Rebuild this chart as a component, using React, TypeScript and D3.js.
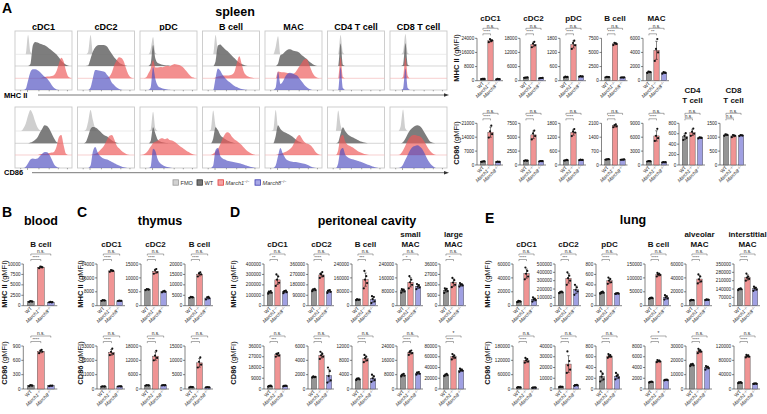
import React from "react";
import * as d3 from "d3";

const FONT = "'Liberation Sans', Arial, Helvetica, sans-serif";
const GROUPS = ["WT", "M1", "M8"];
const BAR_COLORS = ["#949494", "#f09494", "#a0a0e2"];
const HIST_FILL = ["#cfcfcf", "#666666", "#ee5a5a", "#4c4cc0"];
const HIST_OPA = [1, 0.85, 0.68, 0.66];

// ---------------- histogram data (24 bins, relative height 0-100) ----------------
const NB = 24;
const histCells = ["cDC1", "cDC2", "pDC", "B cell", "MAC", "CD4 T cell", "CD8 T cell"];

const mhcFMO = [
  [0,0,0,0,0,80,10,0,0,0,0,0,0,0,0,0,0,0,0,0,0,0,0,0],
  [0,0,0,0,10,80,5,0,0,0,0,0,0,0,0,0,0,0,0,0,0,0,0,0],
  [0,0,0,0,20,72,5,0,0,0,0,0,0,0,0,0,0,0,0,0,0,0,0,0],
  [0,0,0,0,0,80,15,0,0,0,0,0,0,0,0,0,0,0,0,0,0,0,0,0],
  [0,0,0,0,30,75,0,0,0,0,0,0,0,0,0,0,0,0,0,0,0,0,0,0],
  [0,0,0,0,0,80,8,0,0,0,0,0,0,0,0,0,0,0,0,0,0,0,0,0],
  [0,0,0,0,0,10,85,5,0,0,0,0,0,0,0,0,0,0,0,0,0,0,0,0],
];
const mhcWT = [
  [0,0,0,0,0,0,8,85,100,98,93,90,86,80,72,65,56,48,35,22,12,5,1,0],
  [0,0,0,0,2,30,60,78,86,88,88,86,80,65,50,35,25,15,8,4,1,0,0,0],
  [0,0,0,0,10,88,30,12,8,5,3,2,1,0,0,0,0,0,0,0,0,0,0,0],
  [0,0,0,0,0,20,85,90,80,70,62,52,42,32,22,14,8,4,1,0,0,0,0,0],
  [0,0,0,0,0,10,45,50,60,68,70,66,62,60,55,45,38,30,20,12,5,1,0,0],
  [0,0,0,0,0,94,5,0,0,0,0,0,0,0,0,0,0,0,0,0,0,0,0,0],
  [0,0,0,0,0,5,95,5,0,0,0,0,0,0,0,0,0,0,0,0,0,0,0,0],
];
const mhcM1 = [
  [0,0,0,0,0,0,0,0,0,0,0,3,5,7,8,10,14,30,62,86,70,30,6,1],
  [0,0,0,0,0,0,0,0,0,0,0,0,2,8,25,55,75,88,85,70,40,15,3,0],
  [0,0,3,20,40,75,45,45,47,46,50,52,50,55,60,58,55,50,42,30,18,8,3,0],
  [0,0,0,0,0,3,8,10,12,12,12,13,16,28,65,92,60,25,12,6,3,1,0,0],
  [0,0,0,0,0,28,26,25,24,22,20,18,22,35,50,65,78,80,60,35,15,5,1,0],
  [0,0,0,0,0,88,5,0,0,0,0,0,0,0,0,0,0,0,0,0,0,0,0,0],
  [0,0,0,0,0,5,88,10,0,0,0,0,0,0,0,0,0,0,0,0,0,0,0,0],
];
const mhcM8 = [
  [0,0,0,0,5,40,75,86,86,82,75,65,55,48,35,20,8,2,0,0,0,0,0,0],
  [0,0,0,0,0,10,50,83,82,80,78,75,62,50,30,20,10,4,1,0,0,0,0,0],
  [0,0,0,0,10,96,45,18,10,6,4,2,1,0,0,0,0,0,0,0,0,0,0,0],
  [0,0,0,0,0,50,90,80,62,50,40,32,24,17,12,7,4,2,1,0,0,0,0,0],
  [0,0,0,0,10,76,25,35,55,68,72,70,65,60,48,35,22,12,5,1,0,0,0,0],
  [0,0,0,0,0,95,8,0,0,0,0,0,0,0,0,0,0,0,0,0,0,0,0,0],
  [0,0,0,0,0,5,90,8,0,0,0,0,0,0,0,0,0,0,0,0,0,0,0,0],
];
const cd86FMO = [
  [0,0,0,10,30,65,88,70,40,15,3,0,0,0,0,0,0,0,0,0,0,0,0,0],
  [0,0,0,5,40,88,45,10,0,0,0,0,0,0,0,0,0,0,0,0,0,0,0,0],
  [0,0,0,0,5,80,10,0,0,0,0,0,0,0,0,0,0,0,0,0,0,0,0,0],
  [0,0,0,5,85,20,0,0,0,0,0,0,0,0,0,0,0,0,0,0,0,0,0,0],
  [0,0,0,5,88,15,0,0,0,0,0,0,0,0,0,0,0,0,0,0,0,0,0,0],
  [0,0,0,0,85,25,0,0,0,0,0,0,0,0,0,0,0,0,0,0,0,0,0,0],
  [0,0,0,0,20,90,10,0,0,0,0,0,0,0,0,0,0,0,0,0,0,0,0,0],
];
const cd86WT = [
  [0,0,0,0,0,0,3,8,15,25,45,62,75,72,60,40,20,5,1,0,0,0,0,0],
  [0,0,0,5,30,60,68,66,60,50,40,33,28,20,12,6,2,0,0,0,0,0,0,0],
  [0,0,0,0,10,67,40,15,8,4,2,1,0,0,0,0,0,0,0,0,0,0,0,0],
  [0,0,0,0,20,67,55,35,25,18,12,8,4,1,0,0,0,0,0,0,0,0,0,0],
  [0,0,0,0,30,75,60,50,45,40,35,28,20,12,6,2,0,0,0,0,0,0,0,0],
  [0,0,0,0,5,40,67,50,38,30,25,20,15,10,6,3,1,0,0,0,0,0,0,0],
  [0,0,0,0,0,5,20,40,55,65,72,75,72,62,45,28,12,4,1,0,0,0,0,0],
];
const cd86M1 = [
  [0,0,0,0,0,0,0,0,0,0,3,4,5,6,8,10,14,35,75,83,40,5,0,0],
  [0,0,0,0,0,0,2,5,10,20,30,45,65,80,83,65,40,28,18,10,4,1,0,0],
  [0,2,8,20,35,50,55,60,68,70,66,70,62,60,55,48,40,32,25,18,12,6,2,0],
  [0,0,0,0,5,15,25,45,70,88,95,90,75,65,58,50,42,30,20,12,6,2,0,0],
  [0,0,0,0,0,3,5,8,12,18,25,35,55,75,83,70,55,48,45,38,25,10,3,0],
  [0,0,0,0,20,75,83,55,42,38,32,25,18,12,8,4,2,0,0,0,0,0,0,0],
  [0,0,0,0,5,20,40,60,75,82,83,80,78,70,55,38,22,10,3,0,0,0,0,0],
];
const cd86M8 = [
  [0,0,0,0,5,20,35,40,38,40,50,60,67,66,55,35,15,5,1,0,0,0,0,0],
  [0,0,0,0,0,10,70,88,65,50,42,38,35,30,25,20,15,10,6,3,1,0,0,0],
  [0,0,0,0,5,80,70,35,20,12,7,4,2,0,0,0,0,0,0,0,0,0,0,0],
  [0,0,0,0,10,75,83,50,40,35,30,28,26,24,22,20,17,14,10,7,4,2,0,0],
  [0,0,0,0,10,50,83,60,42,32,28,26,25,24,22,20,18,15,10,5,2,0,0,0],
  [0,0,0,0,20,75,83,55,45,40,36,33,30,27,24,20,16,12,8,5,2,0,0,0],
  [0,0,0,0,3,15,35,55,75,88,92,95,90,80,62,42,25,12,4,0,0,0,0,0],
];

// ---------------- bar chart data (individual mice, gMFI) ----------------
type Panel = { title: string[]; ticks: number[]; wt: number[]; m1: number[]; m8: number[]; sig: string[] };

const spleenMHC: Panel[] = [
  { title: ["cDC1"], ticks: [0, 8000, 16000, 24000], wt: [900, 1000, 1100, 1000], m1: [21800, 22800, 23500, 22500], m8: [800, 900, 1000, 850], sig: ["****", "n.s."] },
  { title: ["cDC2"], ticks: [0, 6000, 12000, 18000], wt: [1200, 1400, 1300, 1350], m1: [14200, 15000, 15800, 16500], m8: [1000, 1200, 1100, 1150], sig: ["****", "n.s."] },
  { title: ["pDC"], ticks: [0, 600, 1200, 1800], wt: [140, 160, 170, 150], m1: [1350, 1500, 1600, 1700], m8: [170, 180, 190, 175], sig: ["****", "n.s."] },
  { title: ["B cell"], ticks: [0, 2500, 5000, 7500], wt: [600, 650, 700, 620], m1: [6300, 6500, 6700, 6600], m8: [550, 600, 580, 560], sig: ["****", "n.s."] },
  { title: ["MAC"], ticks: [0, 2000, 4000, 6000], wt: [1100, 1200, 1300, 1250], m1: [2800, 4000, 4500, 5900], m8: [1000, 1100, 1200, 1150], sig: ["**", "n.s."] },
];
const spleenCD86: Panel[] = [
  { title: [], ticks: [0, 7000, 14000, 21000], wt: [1600, 1800, 1700, 1900], m1: [13800, 15500, 17000, 19800], m8: [1500, 1600, 1700, 1550], sig: ["****", "n.s."] },
  { title: [], ticks: [0, 2500, 5000, 7500], wt: [750, 800, 850, 780], m1: [4600, 5200, 5700, 6200], m8: [650, 700, 720, 680], sig: ["****", "n.s."] },
  { title: [], ticks: [0, 600, 1200, 1800], wt: [190, 210, 200, 220], m1: [1250, 1400, 1450, 1550], m8: [210, 220, 230, 215], sig: ["****", "n.s."] },
  { title: [], ticks: [0, 700, 1400, 2100], wt: [270, 290, 280, 300], m1: [1900, 1950, 2000, 2050], m8: [260, 280, 270, 275], sig: ["****", "n.s."] },
  { title: [], ticks: [0, 3000, 6000, 9000], wt: [750, 800, 850, 820], m1: [5200, 5800, 6300, 7800], m8: [550, 600, 620, 580], sig: ["****", "n.s."] },
  { title: ["CD4", "T cell"], ticks: [0, 200, 400, 600, 800], wt: [480, 520, 560, 610], m1: [560, 600, 640, 700], m8: [510, 520, 530, 525], sig: ["n.s.", "n.s."] },
  { title: ["CD8", "T cell"], ticks: [0, 500, 1000, 1500], wt: [1050, 1080, 1100, 1090], m1: [1000, 1050, 1080, 1060], m8: [1040, 1060, 1080, 1070], sig: ["n.s.", "n.s."] },
];
const bloodMHC: Panel[] = [
  { title: ["B cell"], ticks: [0, 2500, 5000, 7500, 10000], wt: [900, 1000, 1100, 1050], m1: [9000, 9200, 9400, 9300], m8: [800, 850, 900, 820], sig: ["****", "n.s."] },
];
const bloodCD86: Panel[] = [
  { title: [], ticks: [0, 300, 600, 900], wt: [60, 70, 80, 75], m1: [750, 780, 800, 820], m8: [60, 70, 72, 68], sig: ["****", "n.s."] },
];
const thymusMHC: Panel[] = [
  { title: ["cDC1"], ticks: [0, 8000, 16000, 24000], wt: [2800, 3000, 3200, 3100], m1: [19500, 20000, 20500, 20200], m8: [2700, 2800, 2900, 2850], sig: ["****", "n.s."] },
  { title: ["cDC2"], ticks: [0, 5000, 10000, 15000], wt: [5600, 5800, 6000, 5900], m1: [11500, 12000, 12800, 13200], m8: [4800, 5000, 5200, 5300], sig: ["****", "n.s."] },
  { title: ["B cell"], ticks: [0, 5000, 10000, 15000, 20000], wt: [3800, 4000, 4200, 4100], m1: [14000, 15000, 15500, 16000], m8: [3000, 3600, 4000, 4200], sig: ["****", "n.s."] },
];
const thymusCD86: Panel[] = [
  { title: [], ticks: [0, 11000, 22000, 33000], wt: [1800, 2000, 2100, 1900], m1: [26000, 27000, 28500, 31000], m8: [1900, 2000, 2100, 2050], sig: ["****", "n.s."] },
  { title: [], ticks: [0, 6000, 12000, 18000], wt: [1400, 1500, 1600, 1550], m1: [12000, 13000, 14000, 16000], m8: [1500, 1600, 1650, 1550], sig: ["****", "n.s."] },
  { title: [], ticks: [0, 5000, 10000, 15000], wt: [600, 700, 750, 650], m1: [7500, 8500, 9500, 11000], m8: [550, 600, 620, 580], sig: ["****", "n.s."] },
];
const periMHC: Panel[] = [
  { title: ["cDC1"], ticks: [0, 100000, 200000, 300000, 400000], wt: [115000, 125000, 130000, 140000, 135000], m1: [190000, 220000, 250000, 280000, 300000], m8: [120000, 130000, 140000, 145000, 135000], sig: ["**", "n.s."] },
  { title: ["cDC2"], ticks: [0, 90000, 180000, 270000, 360000], wt: [125000, 135000, 140000, 145000, 138000], m1: [240000, 255000, 270000, 290000, 275000], m8: [110000, 120000, 130000, 135000, 128000], sig: ["****", "n.s."] },
  { title: ["B cell"], ticks: [0, 80000, 160000, 240000], wt: [32000, 35000, 37000, 34000, 36000], m1: [100000, 130000, 150000, 170000, 200000], m8: [15000, 25000, 38000, 50000, 55000], sig: ["***", "n.s."] },
  { title: ["small", "MAC"], ticks: [0, 80000, 160000, 240000], wt: [75000, 82000, 88000, 92000, 95000], m1: [100000, 120000, 135000, 150000, 170000], m8: [95000, 105000, 110000, 118000, 125000], sig: ["*", "n.s."] },
  { title: ["large", "MAC"], ticks: [0, 9000, 18000, 27000, 36000], wt: [11000, 12500, 13500, 14500, 15000], m1: [16000, 18000, 20000, 22000, 24000], m8: [16500, 17500, 18000, 18500, 19500], sig: ["*", "n.s."] },
];
const periCD86: Panel[] = [
  { title: [], ticks: [0, 9000, 18000, 27000, 36000], wt: [2000, 2300, 2600, 2800, 2400], m1: [27000, 28000, 29000, 30000, 29500], m8: [2200, 2500, 2700, 2800, 2600], sig: ["***", "n.s."] },
  { title: [], ticks: [0, 2000, 4000, 6000], wt: [1600, 1700, 1750, 1650, 1700], m1: [4200, 4500, 4700, 4900, 5200], m8: [900, 1200, 1800, 2500, 3000], sig: ["****", "n.s."] },
  { title: [], ticks: [0, 4000, 8000, 12000], wt: [2500, 2700, 2900, 3000, 2800], m1: [7500, 8000, 8600, 9000, 9500], m8: [2000, 2500, 3000, 3500, 4000], sig: ["****", "n.s."] },
  { title: [], ticks: [0, 8000, 16000, 24000], wt: [7000, 7500, 8000, 8500, 7800], m1: [19000, 20000, 21000, 21500, 20500], m8: [8000, 8500, 9000, 9500, 9200], sig: ["****", "n.s."] },
  { title: [], ticks: [0, 20000, 40000, 60000, 80000], wt: [24000, 26000, 27000, 28000, 25000], m1: [55000, 58000, 60000, 62000, 65000], m8: [32000, 34000, 35000, 36000, 38000], sig: ["****", "*"] },
];
const lungMHC: Panel[] = [
  { title: ["cDC1"], ticks: [0, 20000, 40000, 60000], wt: [5000, 6000, 7000, 6500, 5500], m1: [38000, 42000, 46000, 50000, 55000], m8: [6000, 8000, 9000, 10000, 12000], sig: ["****", "n.s."] },
  { title: ["cDC2"], ticks: [0, 100000, 200000, 300000, 400000, 500000], wt: [150000, 160000, 165000, 170000, 158000], m1: [250000, 300000, 330000, 360000, 400000], m8: [130000, 170000, 190000, 220000, 250000], sig: ["***", "n.s."] },
  { title: ["pDC"], ticks: [0, 200, 400, 600, 800], wt: [230, 250, 260, 270, 240], m1: [420, 450, 480, 510, 540], m8: [225, 230, 235, 240, 232], sig: ["****", "n.s."] },
  { title: ["B cell"], ticks: [0, 50000, 100000, 150000], wt: [25000, 27000, 28000, 29000, 26000], m1: [105000, 110000, 112000, 115000, 118000], m8: [22000, 26000, 30000, 34000, 38000], sig: ["****", "n.s."] },
  { title: ["alveolar", "MAC"], ticks: [0, 20000, 40000, 60000], wt: [7500, 8000, 8500, 8200, 7800], m1: [32000, 35000, 38000, 42000, 45000], m8: [8000, 8500, 9000, 8700, 8300], sig: ["****", "n.s."] },
  { title: ["interstitial", "MAC"], ticks: [0, 70000, 140000, 210000, 280000, 350000], wt: [130000, 138000, 142000, 145000, 140000], m1: [210000, 225000, 235000, 245000, 270000], m8: [125000, 135000, 145000, 150000, 160000], sig: ["****", "n.s."] },
];
const lungCD86: Panel[] = [
  { title: [], ticks: [0, 60000, 120000, 180000], wt: [6000, 7000, 7500, 6500, 7000], m1: [110000, 115000, 120000, 125000, 130000], m8: [5000, 5500, 6000, 6500, 6200], sig: ["****", "n.s."] },
  { title: [], ticks: [0, 10000, 20000, 30000, 40000], wt: [1800, 2000, 2200, 2100, 1900], m1: [15000, 18000, 22000, 26000, 35000], m8: [3000, 3300, 3500, 3800, 3600], sig: ["****", "n.s."] },
  { title: [], ticks: [0, 200, 400, 600, 800], wt: [140, 180, 230, 280, 330], m1: [580, 600, 610, 630, 650], m8: [180, 210, 240, 260, 300], sig: ["****", "n.s."] },
  { title: [], ticks: [0, 2000, 4000, 6000, 8000], wt: [1200, 1300, 1350, 1400, 1300], m1: [5000, 5100, 5200, 5300, 5400], m8: [1600, 1650, 1700, 1750, 1700], sig: ["****", "*"] },
  { title: [], ticks: [0, 10000, 20000, 30000], wt: [16000, 16500, 17000, 17500, 17200], m1: [25000, 26000, 26500, 27000, 28000], m8: [13500, 14500, 15000, 15500, 16000], sig: ["****", "n.s."] },
  { title: [], ticks: [0, 40000, 80000, 120000], wt: [16000, 17000, 18000, 19000, 18500], m1: [88000, 90000, 92000, 94000, 95000], m8: [14000, 14500, 15000, 15500, 15200], sig: ["****", "n.s."] },
];

// ---------------- layout ----------------
const HIST_X = [15, 77.5, 140, 202.5, 265, 327.5, 390];
const HIST_W = 57;
const ROW_A1 = { top: 38.3, zero: 80.7 };
const ROW_A2 = { top: 123.3, zero: 165 };
const ROW_1 = { top: 264, zero: 305.7 };
const ROW_2 = { top: 346, zero: 389 };
const JIT = [-1.7, 1.6, -0.5, 0.8, -1.1, 1.2];

function GroupLabel({ g, x, y }: { g: string; x: number; y: number }) {
  const t = `translate(${x},${y}) rotate(-45)`;
  if (g === "WT") return <text transform={t} textAnchor="end" fontSize={4.8} fill="#222">WT</text>;
  return (
    <text transform={t} textAnchor="end" fontSize={4.8} fill="#222">
      <tspan fontStyle="italic">{g === "M1" ? "March1" : "March8"}</tspan>
      <tspan dy={-1.6} fontSize={3.2}>−/−</tspan>
    </text>
  );
}

function BarPanel({ p, ax, top, zero, gw, titleY }: { p: Panel; ax: number; top: number; zero: number; gw: number; titleY: number }) {
  const maxT = d3.max(p.ticks) as number;
  const y = d3.scaleLinear().domain([0, maxT]).range([zero, top]);
  const x = d3.scaleBand().domain(GROUPS).range([ax + 1, ax + gw]).paddingInner(0.3).paddingOuter(0.3);
  const bw = x.bandwidth();
  const series = [p.wt, p.m1, p.m8];
  const cx = (g: string) => (x(g) as number) + bw / 2;
  const c0 = cx("WT"), c1 = cx("M1"), c2 = cx("M8");
  const lineS = "#333";
  const short = top - 4.5, long = top - 10;
  return (
    <g>
      {p.title.map((t, i) => (
        <text key={i} x={(c0 + c2) / 2} y={titleY - (p.title.length - 1 - i) * 9.8} textAnchor="middle" fontSize={8} fontWeight="bold" fill="#111">{t}</text>
      ))}
      <line x1={ax} x2={ax} y1={zero} y2={top} stroke={lineS} strokeWidth={0.6} />
      {p.ticks.map((t) => (
        <g key={t}>
          <line x1={ax - 2} x2={ax} y1={y(t)} y2={y(t)} stroke={lineS} strokeWidth={0.6} />
          <text x={ax - 2.8} y={y(t) + 1.6} textAnchor="end" fontSize={4.6} fill="#222">{t}</text>
        </g>
      ))}
      <line x1={ax} x2={ax + gw} y1={zero} y2={zero} stroke={lineS} strokeWidth={0.6} />
      {series.map((s, k) => {
        const g = GROUPS[k];
        const m = d3.mean(s) as number;
        const sd = d3.deviation(s) || 0;
        const c = cx(g);
        return (
          <g key={g}>
            <rect x={x(g)} y={y(m)} width={bw} height={zero - y(m)} fill={BAR_COLORS[k]} stroke="#3a3a3a" strokeWidth={0.4} />
            <line x1={c} x2={c} y1={y(m + sd)} y2={y(Math.max(0, m - sd))} stroke="#111" strokeWidth={0.5} />
            <line x1={c - 1.3} x2={c + 1.3} y1={y(m + sd)} y2={y(m + sd)} stroke="#111" strokeWidth={0.5} />
            <line x1={c - 1.3} x2={c + 1.3} y1={y(Math.max(0, m - sd))} y2={y(Math.max(0, m - sd))} stroke="#111" strokeWidth={0.5} />
            {s.map((v, i) => (
              <circle key={i} cx={c + JIT[i % JIT.length]} cy={y(v)} r={1.1} fill="#111" />
            ))}
            <GroupLabel g={g} x={c + 1.5} y={zero + 3} />
          </g>
        );
      })}
      <path d={`M${c0},${long + 1.6}V${long}H${c2}V${long + 1.6}`} fill="none" stroke="#444" strokeWidth={0.45} />
      <text x={(c0 + c2) / 2} y={long - 0.8} textAnchor="middle" fontSize={4.8} fill="#222">{p.sig[1]}</text>
      <path d={`M${c0},${short + 1.6}V${short}H${c1}V${short + 1.6}`} fill="none" stroke="#444" strokeWidth={0.45} />
      <text x={(c0 + c1) / 2} y={short - 0.5} textAnchor="middle" fontSize={p.sig[0] === "n.s." ? 4.8 : 4.4} fill="#222">{p.sig[0]}</text>
    </g>
  );
}

function YLabel({ x, y, marker }: { x: number; y: number; marker: string }) {
  return (
    <text transform={`translate(${x},${y}) rotate(-90)`} textAnchor="middle" fontSize={7.5} fill="#111">
      <tspan fontWeight="bold">{marker}</tspan>
      <tspan> (gMFI)</tspan>
    </text>
  );
}

function Hist({ i, x0, y0, y1, bases, data }: { i: string; x0: number; y0: number; y1: number; bases: number[]; data: number[][] }) {
  const x = d3.scaleLinear().domain([0, NB]).range([x0, x0 + HIST_W]);
  const laneCols = ["#e2e2e2", "#c4c4c4", "#f4bcbc"];
  const id = `clip-${i}`;
  const ticksF = [0.1, 0.22, 0.42, 0.6, 0.76, 0.92];
  return (
    <g>
      <clipPath id={id}>
        <rect x={x0} y={y0} width={HIST_W} height={y1 - y0} />
      </clipPath>
      <rect x={x0} y={y0} width={HIST_W} height={y1 - y0} fill="#fff" stroke="#c9c9c9" strokeWidth={0.9} />
      {bases.slice(0, 3).map((b, k) => (
        <line key={k} x1={x0} x2={x0 + HIST_W} y1={b} y2={b} stroke={laneCols[k]} strokeWidth={0.7} />
      ))}
      <g clipPath={`url(#${id})`}>
        {data.map((s, k) => {
          const pts: [number, number][] = [[0, 0], ...s.map((v, j) => [j + 0.5, v] as [number, number]), [NB, 0]];
          const area = d3
            .area<[number, number]>()
            .x((d) => x(d[0]))
            .y0(bases[k])
            .y1((d) => bases[k] - (d[1] / 100) * 24)
            .curve(d3.curveMonotoneX);
          return <path key={k} d={area(pts) || ""} fill={HIST_FILL[k]} fillOpacity={HIST_OPA[k]} />;
        })}
      </g>
      {ticksF.map((f, k) => (
        <line key={k} x1={x0 + f * HIST_W} x2={x0 + f * HIST_W} y1={y1} y2={y1 + (k === 1 ? 2 : 1.3)} stroke="#555" strokeWidth={0.5} />
      ))}
    </g>
  );
}

function Section({ panels, axes, row, gw, titleY }: { panels: Panel[]; axes: number[]; row: { top: number; zero: number }; gw: number; titleY: number }) {
  return (
    <g>
      {panels.map((p, k) => (
        <BarPanel key={k} p={p} ax={axes[k]} top={row.top} zero={row.zero} gw={gw} titleY={titleY} />
      ))}
    </g>
  );
}

export default function App() {
  const mhcData = [mhcFMO, mhcWT, mhcM1, mhcM8];
  const cd86Data = [cd86FMO, cd86WT, cd86M1, cd86M8];
  const spleenAxes = [477, 520, 560, 601.5, 643, 679, 720];
  const bloodAxes = [23.3];
  const thymusAxes = [97, 141, 185];
  const periAxes = [264, 308, 352, 397, 440];
  const lungAxes = [513, 555, 596, 645, 686, 734];
  const legend = [
    { label: "FMO", x: 173, fill: "#d2d2d2", stroke: "#9a9a9a", it: false },
    { label: "WT", x: 197, fill: "#7a7a7a", stroke: "#333", it: false },
    { label: "March1", x: 218, fill: "#f4a3a3", stroke: "#e03a3a", it: true },
    { label: "March8", x: 255, fill: "#a8a8e6", stroke: "#3a3ab0", it: true },
  ];
  return (
    <svg width={767} height={414} style={{ position: "absolute", left: 0, top: 0, display: "block" }} fontFamily={FONT}>
      <rect width={767} height={414} fill="#fff" />
      <text x={2} y={13.3} fontSize={14} fontWeight="bold">A</text>
      <text x={2} y={216.7} fontSize={14} fontWeight="bold">B</text>
      <text x={77} y={216.7} fontSize={14} fontWeight="bold">C</text>
      <text x={230} y={216.7} fontSize={14} fontWeight="bold">D</text>
      <text x={485} y={223} fontSize={14} fontWeight="bold">E</text>
      <text x={235} y={16} fontSize={12.5} fontWeight="bold" textAnchor="middle">spleen</text>
      <text x={41} y={224.5} fontSize={12.5} fontWeight="bold" textAnchor="middle">blood</text>
      <text x={160} y={224.5} fontSize={12.5} fontWeight="bold" textAnchor="middle">thymus</text>
      <text x={367} y={224.5} fontSize={12.5} fontWeight="bold" textAnchor="middle">peritoneal cavity</text>
      <text x={633} y={224} fontSize={12.5} fontWeight="bold" textAnchor="middle">lung</text>

      {histCells.map((c, k) => (
        <g key={c}>
          <text x={HIST_X[k] + HIST_W / 2} y={29.5} textAnchor="middle" fontSize={9} fontWeight="bold">{c}</text>
          <Hist i={`m${k}`} x0={HIST_X[k]} y0={31} y1={90} bases={[54.3, 66, 78.3, 90]} data={mhcData.map((d) => d[k])} />
          <Hist i={`c${k}`} x0={HIST_X[k]} y0={107} y1={168} bases={[131, 143.3, 155, 168]} data={cd86Data.map((d) => d[k])} />
        </g>
      ))}
      <text x={4} y={97.6} fontSize={7.5} fontWeight="bold">MHC II</text>
      <line x1={38} x2={445} y1={95} y2={95} stroke="#555" strokeWidth={0.8} />
      <path d="M444,93.2L449,95L444,96.8Z" fill="#333" />
      <text x={4} y={175.3} fontSize={7.5} fontWeight="bold">CD86</text>
      <line x1={32} x2={445} y1={172.7} y2={172.7} stroke="#555" strokeWidth={0.8} />
      <path d="M444,170.9L449,172.7L444,174.5Z" fill="#333" />
      {legend.map((l) => (
        <g key={l.label}>
          <rect x={l.x} y={179.8} width={5.4} height={5.4} fill={l.fill} stroke={l.stroke} strokeWidth={0.8} />
          <text x={l.x + 7.5} y={184.8} fontSize={5.6} fill="#333">
            <tspan fontStyle={l.it ? "italic" : "normal"}>{l.label}</tspan>
            {l.it && <tspan dy={-1.8} fontSize={3.6}>−/−</tspan>}
          </text>
        </g>
      ))}

      <YLabel x={458.5} y={58} marker="MHC II" />
      <YLabel x={458.5} y={143} marker="CD86" />
      <Section panels={spleenMHC} axes={spleenAxes} row={ROW_A1} gw={26} titleY={20.5} />
      <Section panels={spleenCD86} axes={spleenAxes} row={ROW_A2} gw={26} titleY={102.7} />

      <YLabel x={6.8} y={284} marker="MHC II" />
      <YLabel x={6.8} y={363} marker="CD86" />
      <Section panels={bloodMHC} axes={bloodAxes} row={ROW_1} gw={34} titleY={246.5} />
      <Section panels={bloodCD86} axes={bloodAxes} row={ROW_2} gw={34} titleY={246.5} />

      <YLabel x={82.5} y={284} marker="MHC II" />
      <YLabel x={82.5} y={363} marker="CD86" />
      <Section panels={thymusMHC} axes={thymusAxes} row={ROW_1} gw={28} titleY={246.5} />
      <Section panels={thymusCD86} axes={thymusAxes} row={ROW_2} gw={28} titleY={246.5} />

      <YLabel x={236} y={284} marker="MHC II" />
      <YLabel x={236} y={363} marker="CD86" />
      <Section panels={periMHC} axes={periAxes} row={ROW_1} gw={26} titleY={246.5} />
      <Section panels={periCD86} axes={periAxes} row={ROW_2} gw={26} titleY={246.5} />

      <YLabel x={490} y={284} marker="MHC II" />
      <YLabel x={490} y={363} marker="CD86" />
      <Section panels={lungMHC} axes={lungAxes} row={ROW_1} gw={26} titleY={246.5} />
      <Section panels={lungCD86} axes={lungAxes} row={ROW_2} gw={26} titleY={246.5} />
    </svg>
  );
}
